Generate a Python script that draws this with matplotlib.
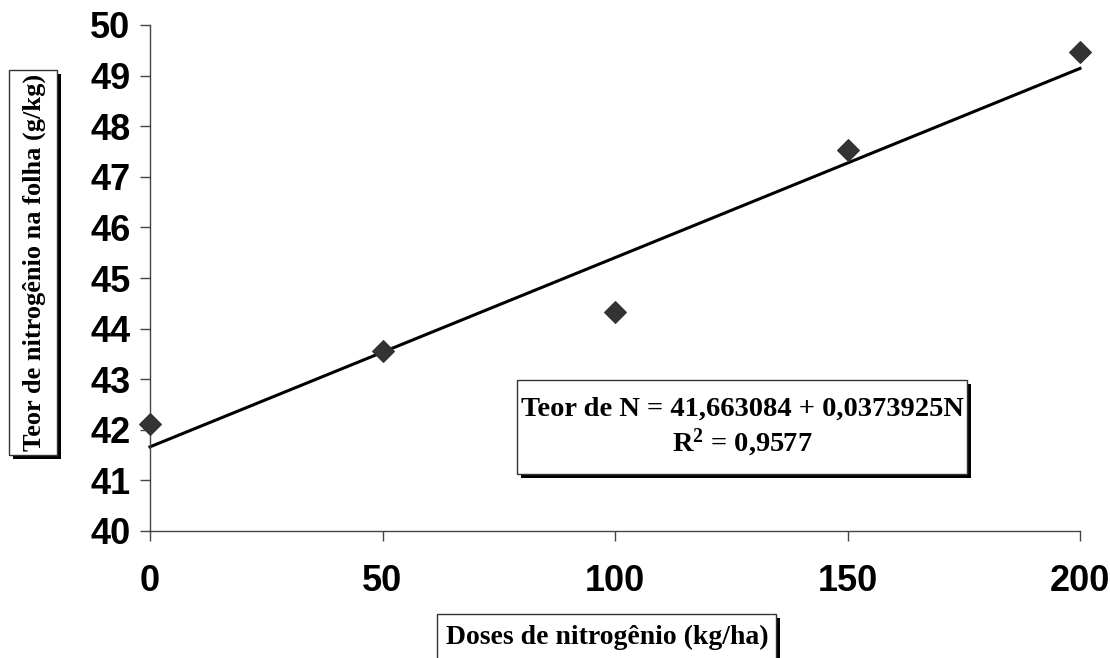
import matplotlib
matplotlib.use("Agg")
import matplotlib.pyplot as plt
from matplotlib.patches import Rectangle
import numpy as np

plt.rcParams['mathtext.fontset'] = 'custom'
plt.rcParams['mathtext.rm'] = 'Liberation Serif:bold'
plt.rcParams['mathtext.bf'] = 'Liberation Serif:bold'
plt.rcParams['mathtext.it'] = 'Liberation Serif:bold'

doses = [0, 50, 100, 150, 200]
teor = [42.12, 43.55, 44.33, 47.53, 49.47]
intercept = 41.663084
slope = 0.0373925
r2_text = "0,9577"
xticks = [0, 50, 100, 150, 200]
yticks = list(range(40, 51))

W, H = 1110, 658
fig = plt.figure(figsize=(W/100, H/100), dpi=100)
ax = fig.add_axes([150/W, 1-531/H, (1080-150)/W, (531-25)/H])

xfit = np.array([0, 200])
ax.plot(xfit, intercept + slope*xfit, color='black', lw=2.2, clip_on=False, zorder=2)
ax.scatter(doses, teor, marker='D', s=120, color='#333333', clip_on=False, zorder=3)

ax.set_xlim(0, 200)
ax.set_ylim(40, 50)
ax.set_xticks(xticks)
ax.set_yticks(yticks)
for s in ['top', 'right']:
    ax.spines[s].set_visible(False)
for s in ['left', 'bottom']:
    ax.spines[s].set_color('#444444')
    ax.spines[s].set_linewidth(1.0)
ax.tick_params(axis='y', direction='out', length=7, width=1, color='#444444', pad=7)
ax.tick_params(axis='x', direction='out', length=7, width=1, color='#444444', pad=17)
for lab in ax.get_xticklabels() + ax.get_yticklabels():
    lab.set_family('Liberation Sans')
    lab.set_fontweight('bold')
    lab.set_fontsize(26)

def pbox(x0, y0, x1, y1, sh=4):
    # pixel coords, y from top
    fx0, fx1 = x0/W, x1/W
    fy0, fy1 = 1-y1/H, 1-y0/H
    fig.patches.append(Rectangle((fx0 + sh/W, fy0 - sh/H), fx1-fx0, fy1-fy0,
                                 transform=fig.transFigure, fc='black', ec='none', zorder=5))
    fig.patches.append(Rectangle((fx0, fy0), fx1-fx0, fy1-fy0,
                                 transform=fig.transFigure, fc='white', ec='#333333', lw=1, zorder=6))

def ptext(x, y, s, size, rot=0):
    fig.text(x/W, 1-y/H, s, ha='center', va='center', rotation=rot,
             family='Liberation Serif', fontweight='bold', fontsize=size, zorder=7)

pbox(9, 70, 57, 455)
ptext(34, 262, "Teor de nitrogênio na folha (g/kg)", 19, rot=90)

pbox(437, 614, 776, 675)
ptext(607, 637, "Doses de nitrogênio (kg/ha)", 20)

pbox(517, 380, 967, 474)
eq1 = "Teor de N = %s + %sN" % (("%.6f" % intercept).replace('.', ','),
                                 ("%.7f" % slope).replace('.', ','))
eq2 = "$\\mathbf{R}^{\\mathbf{2}}$ = %s" % r2_text
ptext(742, 409, eq1, 20.5)
ptext(742, 443, eq2, 20.5)

fig.savefig("out.png", dpi=100)
